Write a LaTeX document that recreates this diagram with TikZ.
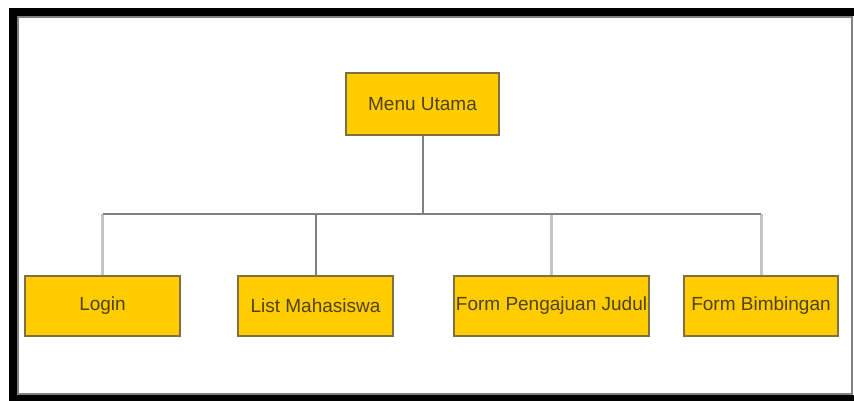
\documentclass[tikz,border=0pt]{standalone}
\definecolor{menuyellow}{RGB}{255, 204, 0}
\definecolor{menuedge}{RGB}{128, 112, 64}
\definecolor{menutext}{RGB}{80, 66, 10}
\definecolor{linkgray}{RGB}{128, 128, 128}
\definecolor{droplight}{RGB}{196, 196, 196}
\usepackage{fontspec}
\setmainfont{Liberation Sans}
\usepackage{tikz}
\usetikzlibrary{positioning, calc}

\begin{document}
\begin{tikzpicture}[x=1pt, y=-1pt,
  menubox/.style={draw=menuedge, fill=menuyellow, line width=1.6pt, minimum height=60pt, inner sep=0pt,
    text=menutext, font=\fontsize{19}{22}\selectfont},
  link/.style={draw=linkgray, line width=2pt},
  droplink/.style={draw=droplight, line width=3pt}]
  \useasboundingbox (0,0) rectangle (854,400);
  \clip (0,0) rectangle (854,400);
  \fill[white] (0,0) rectangle (854,400);
  \draw[line width=8pt] (870,12) -- (13,12) -- (13,399) -- (870,399);
  \draw[linkgray, line width=2pt] (18,17) rectangle (852,394);

  \node[menubox, minimum width=153pt, minimum height=62pt] (menu) at (422.5,104) {Menu Utama};
  \node[menubox, minimum width=155pt] (login) at (102.5,306) {Login};
  \node[menubox, minimum width=155pt] (list) at (315.5,306) {List Mahasiswa};
  \node[menubox, minimum width=195pt] (pengajuan) at (551.5,306) {Form Pengajuan Judul};
  \node[menubox, minimum width=154pt] (bimbingan) at (761,306) {Form Bimbingan};

  \draw[link] (menu.south) -- ++(0,78) coordinate (bus);
  \draw[droplink] (bus -| login.north) -- (login.north);
  \draw[droplink] (bus -| pengajuan.north) -- (pengajuan.north);
  \draw[droplink] (bus -| bimbingan.north) -- (bimbingan.north);
  \draw[link] (bus -| list.north) -- (list.north);
  \draw[link] (bus -| login.north) -- (bus -| bimbingan.north);
\end{tikzpicture}
\end{document}
